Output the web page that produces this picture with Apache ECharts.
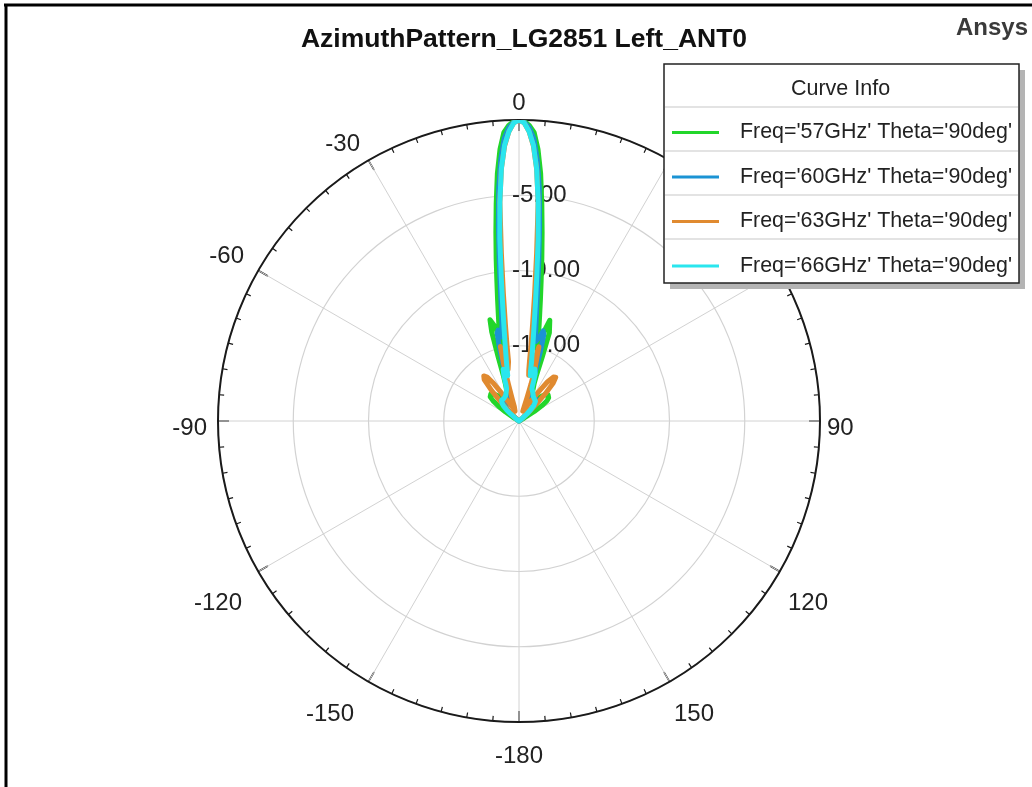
<!DOCTYPE html>
<html>
<head>
<meta charset="utf-8">
<title>AzimuthPattern_LG2851 Left_ANT0</title>
<script src="https://cdn.jsdelivr.net/npm/echarts@6/dist/echarts.min.js"></script>
<style>
  html, body { margin: 0; padding: 0; background: #ffffff; }
  #chart { width: 1032px; height: 787px; }
</style>
</head>
<body>
<div id="chart"></div>
<script>
// Azimuth angle (deg) of every sample; 0 at top, clockwise positive.
const ANGLES = [
  -180,
  -60, -58, -56, -54, -52, -50, -48, -46, -44, -42, -40, -38, -36, -34, -32, -30, -28, -26, -24, -22,
  -21, -20, -19, -18, -17, -16, -15, -14, -13, -12, -11, -10, -9, -8, -7, -6, -5, -4, -3, -2, -1,
  0,
  1, 2, 3, 4, 5, 6, 7, 8, 9, 10, 11, 12, 13, 14, 15, 16, 17, 18, 19, 20, 21,
  22, 24, 26, 28, 30, 32, 34, 36, 38, 40, 42, 44, 46, 48, 50, 52, 54, 56, 58, 60,
  180
];

const CURVE_NAMES = [
  "Freq='57GHz' Theta='90deg'",
  "Freq='60GHz' Theta='90deg'",
  "Freq='63GHz' Theta='90deg'",
  "Freq='66GHz' Theta='90deg'"
];
const CURVE_COLORS = ['#22d62a', '#1b93d4', '#e08a30', '#2ae6ee'];

// Normalised gain (dB) per curve, one value per entry of ANGLES.
const GAIN_57 = [
  -20,
  -20, -19.5, -18.9, -18.3, -17.8, -17.5, -17.4, -17.4, -17.5, -17.6, -17.8, -18.0, -18.2, -18.4, -18.6, -18.7, -18.6, -18.4, -18.1, -17.8,
  -17.6, -17.3, -16.8, -15.5, -13.8, -13.0, -13.0, -13.6, -14.8, -13.6, -12.8, -11.8, -10.6, -9.1, -7.4, -5.5, -3.5, -1.9, -0.8, -0.35, -0.08,
  0,
  -0.08, -0.35, -0.8, -1.9, -3.5, -5.5, -7.4, -9.1, -10.6, -11.8, -12.8, -13.6, -14.5, -15.0, -14.6, -13.6, -13.0, -13.0, -13.8, -15.5, -16.8,
  -17.3, -17.7, -18.1, -18.4, -18.6, -18.7, -18.6, -18.4, -18.2, -18.0, -17.8, -17.6, -17.5, -17.4, -17.4, -17.5, -17.7, -18.1, -18.8, -19.6,
  -20
];
const GAIN_60 = [
  -20,
  -20, -20, -20, -20, -19.9, -19.7, -19.5, -19.2, -18.9, -18.7, -18.5, -18.3, -18.2, -18.1, -18.1, -18.2, -18.3, -18.4, -18.4, -18.3,
  -18.2, -18.1, -17.9, -17.6, -17.1, -16.3, -15.0, -14.0, -13.8, -14.3, -14.2, -13.5, -12.5, -11.1, -9.2, -6.9, -4.5, -2.6, -1.2, -0.5, -0.12,
  0,
  -0.12, -0.5, -1.2, -2.6, -4.5, -6.9, -9.2, -11.1, -12.5, -13.5, -14.2, -14.6, -14.7, -14.2, -13.8, -14.0, -15.0, -16.3, -17.1, -17.6, -17.9,
  -18.1, -18.3, -18.4, -18.4, -18.3, -18.2, -18.1, -18.1, -18.2, -18.3, -18.5, -18.7, -18.9, -19.2, -19.5, -19.7, -19.9, -20, -20, -20,
  -20
];
const GAIN_63 = [
  -20,
  -20, -20, -20, -20, -20, -20, -19.7, -19.2, -18.4, -17.3, -16.4, -16.2, -16.4, -17.0, -17.8, -18.4, -18.7, -18.9, -19.1, -19.3,
  -19.4, -19.4, -19.3, -19.0, -18.4, -17.4, -16.0, -14.9, -15.0, -16.5, -16.6, -16.0, -14.9, -13.5, -11.5, -8.8, -5.4, -3.2, -1.7, -0.75, -0.18,
  0,
  -0.18, -0.75, -1.7, -3.2, -5.4, -8.8, -11.5, -13.5, -14.9, -16.0, -16.6, -16.9, -16.7, -16.0, -14.9, -15.0, -16.4, -17.4, -18.4, -19.0, -19.3,
  -19.4, -19.3, -19.1, -18.9, -18.6, -18.2, -17.6, -16.8, -16.3, -16.2, -16.6, -17.5, -18.5, -19.2, -19.7, -20, -20, -20, -20, -20,
  -20
];
const GAIN_66 = [
  -20,
  -20, -20, -20, -20, -19.7, -19.3, -18.9, -18.6, -18.4, -18.3, -18.2, -18.2, -18.2, -18.2, -18.2, -18.2, -18.1, -18.0, -17.9, -17.8,
  -17.7, -17.5, -17.1, -16.7, -16.4, -16.4, -16.6, -16.9, -16.9, -16.0, -15.4, -14.6, -13.6, -12.2, -10.3, -7.8, -5.4, -3.2, -1.65, -0.75, -0.18,
  0,
  -0.18, -0.75, -1.65, -3.2, -5.4, -7.8, -10.3, -12.2, -13.6, -14.6, -15.4, -16.0, -16.6, -16.9, -16.8, -16.6, -16.4, -16.4, -16.7, -17.1, -17.5,
  -17.7, -17.8, -17.9, -18.0, -18.1, -18.2, -18.2, -18.2, -18.2, -18.3, -18.4, -18.6, -18.9, -19.3, -19.7, -20, -20, -20, -20, -20,
  -20
];
const CURVE_GAINS = [GAIN_57, GAIN_60, GAIN_63, GAIN_66];

// Gain rings (dB) and azimuth spokes (deg)
const GAIN_MIN = -20, GAIN_MAX = 0, GAIN_STEP = 5;
const AZ_STEP = 30;

const FONT = '"Liberation Sans", Arial, sans-serif';
const TEXT_COLOR = '#222222';
const AXIS_FONT_SIZE = 24;

// Polar axis runs 0..360 clockwise from the top; negative azimuths wrap.
const toAxisAngle = a => ((a % 360) + 360) % 360;

// Extra padding per azimuth label [top, right, bottom, left]
const AZ_LABEL_PAD = {
  0: [0, 0, 0, 0], 30: [0, 0, 0, 0], 60: [0, 0, 0, 0],
  90: [14, 0, 0, 2], 120: [17, 0, 0, 4], 150: [16, 0, 0, 2],
  180: [17, 0, 0, 0], 210: [16, 12, 0, 0], 240: [17, 12, 0, 0],
  270: [14, 6, 0, 0], 300: [0, 10, 0, 0], 330: [0, 6, 0, 0]
};
const azRich = {};
Object.keys(AZ_LABEL_PAD).forEach(k => {
  azRich['a' + k] = {
    fontFamily: FONT, fontSize: AXIS_FONT_SIZE, color: TEXT_COLOR, padding: AZ_LABEL_PAD[k]
  };
});

const chart = echarts.init(document.getElementById('chart'), null, { renderer: 'canvas' });

const series = CURVE_NAMES.map((name, i) => ({
  name: name,
  type: 'line',
  coordinateSystem: 'polar',
  showSymbol: false,
  symbol: 'none',
  smooth: false,
  animation: false,
  color: CURVE_COLORS[i],
  lineStyle: { color: CURVE_COLORS[i], width: 5, join: 'round', cap: 'round' },
  data: ANGLES.map((a, k) => [CURVE_GAINS[i][k], toAxisAngle(a)])
}));

// Legend table frame ("Curve Info")
const BOX = { x: 664, y: 64, w: 355, h: 219 };
const ROW_LINES = [107, 151, 195, 239];

const graphics = [
  // outer frame (top and left edge)
  { type: 'line', z: 40, shape: { x1: 4, y1: 5, x2: 1032, y2: 5 }, style: { stroke: '#000', lineWidth: 3 } },
  { type: 'line', z: 40, shape: { x1: 6, y1: 4, x2: 6, y2: 787 }, style: { stroke: '#000', lineWidth: 3 } },
  // Ansys mark
  { type: 'text', z: 40, style: { text: 'Ansys', x: 956, y: 28, font: 'bold 24px ' + FONT, fill: '#3a3a3a', textVerticalAlign: 'middle' } },
  // legend box with drop shadow
  { type: 'rect', z: 10, shape: { x: BOX.x + 6, y: BOX.y + 6, width: BOX.w, height: BOX.h }, style: { fill: '#b4b4b4' } },
  { type: 'rect', z: 11, shape: { x: BOX.x, y: BOX.y, width: BOX.w, height: BOX.h }, style: { fill: '#ffffff', stroke: '#222', lineWidth: 1.5 } },
  { type: 'text', z: 12, style: { text: 'Curve Info', x: BOX.x + BOX.w / 2 - 1, y: 89, font: '21.5px ' + FONT, fill: TEXT_COLOR, textAlign: 'center', textVerticalAlign: 'middle' } }
].concat(ROW_LINES.map(y => ({
  type: 'line', z: 12,
  shape: { x1: BOX.x + 1, y1: y, x2: BOX.x + BOX.w - 1, y2: y },
  style: { stroke: '#c8c8c8', lineWidth: 1.2 }
})));

chart.setOption({
  backgroundColor: '#ffffff',
  animation: false,
  title: {
    text: 'AzimuthPattern_LG2851 Left_ANT0',
    left: 519,
    top: 21,
    textAlign: 'center',
    textStyle: { fontFamily: FONT, fontWeight: 'bold', fontSize: 26.5, color: '#111111' }
  },
  legend: {
    data: CURVE_NAMES,
    orient: 'vertical',
    left: 672,
    top: 122,
    padding: 0,
    itemGap: 23.5,
    itemWidth: 47,
    itemHeight: 3,
    icon: 'rect',
    selectedMode: false,
    z: 20,
    textStyle: { fontFamily: FONT, fontSize: 21.4, lineHeight: 20, color: TEXT_COLOR, padding: [0, 0, 0, 16] }
  },
  polar: { center: [519, 421], radius: 301 },
  angleAxis: {
    type: 'value',
    min: 0,
    max: 360,
    interval: AZ_STEP,
    startAngle: 90,
    clockwise: true,
    axisLine: { show: true, lineStyle: { color: '#1a1a1a', width: 2 } },
    axisTick: { show: true, inside: true, length: 11, lineStyle: { color: '#1a1a1a', width: 1.5 } },
    minorTick: { show: true, splitNumber: 6, length: 5, lineStyle: { color: '#1a1a1a', width: 1.2 } },
    axisLabel: {
      margin: 5,
      fontFamily: FONT,
      fontSize: AXIS_FONT_SIZE,
      color: TEXT_COLOR,
      formatter: v => (v === 360 ? '' : '{a' + v + '|' + (v >= 180 ? v - 360 : v) + '}'),
      rich: azRich
    },
    splitLine: { show: true, lineStyle: { color: '#d2d2d2', width: 1 } }
  },
  radiusAxis: {
    type: 'value',
    min: GAIN_MIN,
    max: GAIN_MAX,
    interval: GAIN_STEP,
    axisLine: { show: false },
    axisTick: { show: false },
    axisLabel: {
      fontFamily: FONT,
      fontSize: AXIS_FONT_SIZE,
      color: TEXT_COLOR,
      align: 'left',
      margin: 7,
      formatter: v => (v === GAIN_MIN || v === GAIN_MAX ? '' : v.toFixed(2))
    },
    splitLine: { show: true, lineStyle: { color: '#d2d2d2', width: 1.2 } }
  },
  graphic: graphics,
  series: series
});
</script>
</body>
</html>
